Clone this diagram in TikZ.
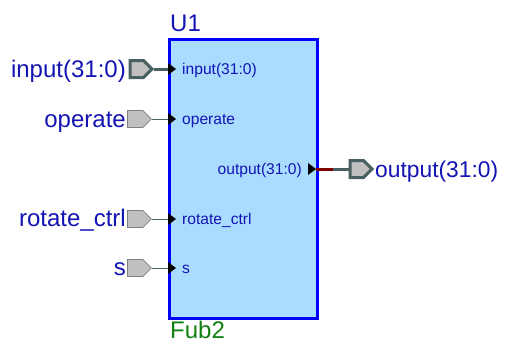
\documentclass[tikz,border=0pt]{standalone}
\usepackage{fontspec}
\setmainfont{Liberation Sans}
\usetikzlibrary{shapes.symbols}

\definecolor{lbl}{RGB}{20,20,180}
\definecolor{boxfill}{RGB}{170,220,255}
\definecolor{boxline}{RGB}{0,0,255}
\definecolor{portfill}{RGB}{192,192,192}
\definecolor{busline}{RGB}{72,96,96}
\definecolor{wireline}{RGB}{80,100,100}
\definecolor{portedge}{RGB}{128,128,128}
\definecolor{pinred}{RGB}{128,0,0}
\definecolor{gname}{RGB}{16,128,16}

\tikzset{
  blockbox/.style={draw=boxline, fill=boxfill, line width=3pt, rectangle, inner sep=0pt},
  busport/.style={signal, signal to=east, draw=busline, fill=portfill, line width=3pt,
    minimum width=22pt, minimum height=17pt, inner sep=0pt},
  wireport/.style={signal, signal to=east, draw=portedge, fill=portfill, line width=0.8pt,
    minimum width=24pt, minimum height=17pt, inner sep=0pt},
  buswire/.style={draw=busline, line width=3pt},
  thinwire/.style={draw=wireline, line width=1pt},
  outerlbl/.style={text=lbl, font=\fontsize{24}{24}\selectfont, inner sep=0pt},
  innerlbl/.style={text=lbl, font=\fontsize{15.6}{15.6}\selectfont, inner sep=0pt},
  pics/pinmark/.style={code={\fill[black] (0,-6) -- (8,0) -- (0,6) -- cycle;}},
  pics/pinmarkout/.style={code={\fill[black] (-8,-6) -- (0,0) -- (-8,6) -- cycle;}}
}

\begin{document}
\begin{tikzpicture}[x=1pt,y=-1pt]
\useasboundingbox (0,0) rectangle (505,340);

% component block
\node[blockbox, anchor=north west, minimum width=148pt, minimum height=279pt] (u1) at (168,38) {};
\node[text=lbl, font=\fontsize{24}{24}\selectfont, inner sep=0pt, anchor=base west] (uname) at (170,31) {U1};
\node[text=gname, font=\fontsize{24}{24}\selectfont, inner sep=0pt, anchor=base west] (tname) at (170,338) {Fub2};

% pin points on the block edge
\coordinate (pin_in) at (168,69);
\coordinate (pin_op) at (168,119);
\coordinate (pin_rc) at (168,219);
\coordinate (pin_s) at (168,268);
\coordinate (pin_out) at (316,169);
\coordinate (outmid) at (333,169);

% input ports
\node[busport, anchor=west] (inport) at (128.5,69) {};
\node[wireport, anchor=west] (opport) at (127,119) {};
\node[wireport, anchor=west] (rcport) at (127,219) {};
\node[wireport, anchor=west] (sport) at (127,268) {};

% output port
\node[busport, anchor=west] (outport) at (348.5,169) {};

% wires
\draw[buswire] (inport.east) -- (pin_in);
\draw[thinwire] (opport.east) -- (pin_op);
\draw[thinwire] (rcport.east) -- (pin_rc);
\draw[thinwire] (sport.east) -- (pin_s);
\draw[draw=pinred, line width=3pt] (pin_out) -- (outmid);
\draw[buswire] (outmid) -- (outport.west);

% pin arrows
\pic at (pin_in) {pinmark};
\pic at (pin_op) {pinmark};
\pic at (pin_rc) {pinmark};
\pic at (pin_s) {pinmark};
\pic at (pin_out) {pinmarkout};

% port names outside
\node[outerlbl, anchor=base east] (l_in) at (126,77.5) {input(31:0)};
\node[outerlbl, anchor=base east] (l_op) at (126,127) {operate};
\node[outerlbl, anchor=base east] (l_rc) at (126,226.5) {rotate\_ctrl};
\node[outerlbl, anchor=base east] (l_s) at (126,275.5) {s};
\node[outerlbl, anchor=base west, font=\fontsize{22.8}{22.8}\selectfont] (l_out) at (375,177.5) {output(31:0)};

% pin names inside
\node[innerlbl, anchor=base west] (i_in) at (182,74.5) {input(31:0)};
\node[innerlbl, anchor=base west] (i_op) at (182,124.5) {operate};
\node[innerlbl, anchor=base west] (i_rc) at (182,224.5) {rotate\_ctrl};
\node[innerlbl, anchor=base west] (i_s) at (182,273.5) {s};
\node[innerlbl, anchor=base east] (i_out) at (302,174.5) {output(31:0)};
\end{tikzpicture}
\end{document}
